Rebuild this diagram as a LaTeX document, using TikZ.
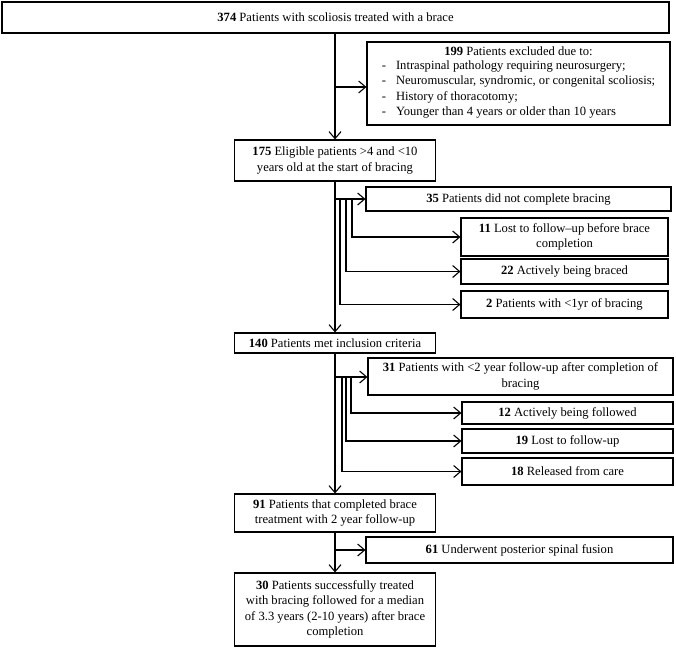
\documentclass[tikz,border=0pt]{standalone}
\usepackage{fontspec}
\setmainfont{Liberation Serif}
\usetikzlibrary{arrows.meta}
\begin{document}
\begin{tikzpicture}[x=1pt, y=-1pt,
    box/.style={draw, line width=1.1pt, align=center, inner sep=0pt,
                font=\fontsize{12.6}{15.5}\selectfont},
    arr/.style={line width=1.1pt, -{Straight Barb[length=7pt,width=12pt,line width=1.1pt]}},
    lin/.style={line width=1.1pt}]
\useasboundingbox (0,0) rectangle (676,650);

% Main column
\node[box, minimum width=667, minimum height=31] (n374) at (335.5,17.5)
  {\textbf{374} Patients with scoliosis treated with a brace};
\node[box, minimum width=201, minimum height=41] (n175) at (335,160.5)
  {\textbf{175} Eligible patients >4 and <10\\years old at the start of bracing};
\node[box, minimum width=201, minimum height=20] (n140) at (335,343)
  {\textbf{140} Patients met inclusion criteria};
\node[box, minimum width=201, minimum height=38] (n91) at (335,513)
  {\textbf{91} Patients that completed brace\\treatment with 2 year follow-up};
\node[box, minimum width=201, minimum height=73] (n30) at (335,609.5)
  {\textbf{30} Patients successfully treated\\with bracing followed for a median\\of 3.3 years (2-10 years) after brace\\completion};

% Excluded
\node[box, minimum width=303, minimum height=83] (n199) at (518.5,83.5)
  {\textbf{199} Patients excluded due to:\\[2pt]
   \begin{tabular}{@{}l@{\hspace{10pt}}l@{}}
   -&Intraspinal pathology requiring neurosurgery;\\
   -&Neuromuscular, syndromic, or congenital scoliosis;\\
   -&History of thoracotomy;\\
   -&Younger than 4 years or older than 10 years
   \end{tabular}};

% Did not complete bracing
\node[box, minimum width=305, minimum height=24] (n35) at (518.5,199)
  {\textbf{35} Patients did not complete bracing};
\node[box, minimum width=207, minimum height=38] (n11) at (564.5,237)
  {\textbf{11} Lost to follow--up before brace\\completion};
\node[box, minimum width=207, minimum height=25] (n22) at (564.5,271.5)
  {\textbf{22} Actively being braced};
\node[box, minimum width=207, minimum height=27] (n2) at (564.5,304.5)
  {\textbf{2} Patients with <1yr of bracing};

% Short follow-up
\node[box, minimum width=305, minimum height=37] (n31) at (520.5,376.5)
  {\textbf{31} Patients with <2 year follow-up after completion of\\bracing};
\node[box, minimum width=211, minimum height=22] (n12) at (567.5,413)
  {\textbf{12} Actively being followed};
\node[box, minimum width=211, minimum height=24] (n19) at (567.5,441)
  {\textbf{19} Lost to follow-up};
\node[box, minimum width=211, minimum height=27] (n18) at (567.5,471.5)
  {\textbf{18} Released from care};

% Fusion
\node[box, minimum width=307, minimum height=26] (n61) at (519.5,550)
  {\textbf{61} Underwent posterior spinal fusion};

% Junctions
\coordinate (j0) at (335,87);
\coordinate (j1) at (335,199);
\coordinate (b11) at (352,199); \coordinate (b22) at (346,199); \coordinate (b2) at (340,199);
\coordinate (j2) at (335,377);
\coordinate (b12) at (351,377); \coordinate (b19) at (346,377); \coordinate (b18) at (342,377);
\coordinate (j3) at (335,550);

% Main arrows
\draw[arr] (n374.south -| n175.north) -- (n175.north);
\draw[arr] (n175.south) -- (n140.north);
\draw[arr] (n140.south) -- (n91.north);
\draw[arr] (n91.south) -- (n30.north);

% Side arrows
\draw[arr] (j0) -- (j0 -| n199.west);
\draw[arr] (j1) -- (j1 -| n35.west);
\foreach \b/\n in {b11/n11, b22/n22, b2/n2, b12/n12, b19/n19, b18/n18}
  \draw[arr] (\b) |- (\n.west);
\draw[arr] (j2) -- (j2 -| n31.west);
\draw[arr] (j3) -- (j3 -| n61.west);
\end{tikzpicture}
\end{document}
